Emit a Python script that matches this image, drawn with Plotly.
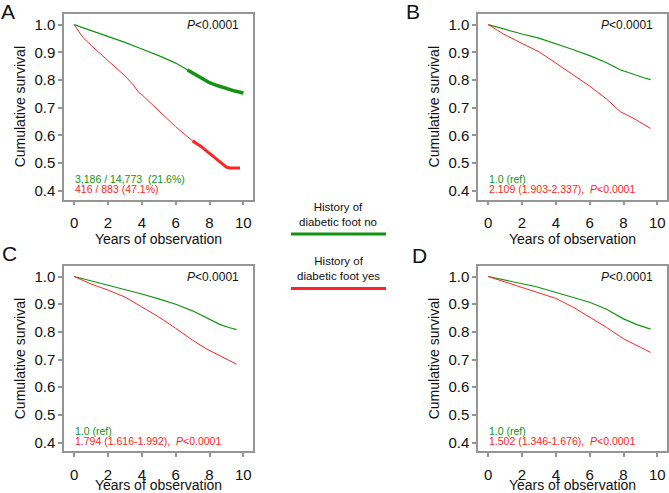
import plotly.graph_objects as go

# Kaplan-Meier style survival curves
# panel A (crude)
a_yrs_no = [0, 1, 2, 3, 4, 5, 6, 6.7, 7, 7.5, 8, 8.5, 9, 9.5, 10]
a_surv_no = [1.0, 0.979, 0.958, 0.936, 0.912, 0.888, 0.861, 0.836, 0.825, 0.808, 0.790, 0.779, 0.769, 0.760, 0.753]
a_yrs_yes = [0, 0.5, 1, 1.5, 2, 2.5, 3, 3.5, 3.8, 4, 4.5, 5, 5.5, 6, 6.5, 7, 7.5, 8, 8.5, 9, 9.2, 9.8]
a_surv_yes = [1.0, 0.955, 0.925, 0.897, 0.872, 0.843, 0.815, 0.782, 0.756, 0.747, 0.718, 0.689, 0.659,
              0.631, 0.605, 0.580, 0.560, 0.535, 0.510, 0.485, 0.482, 0.482]

# panel B
b_yrs = [0, 1, 2, 3, 4, 5, 6, 7, 7.8, 8.6, 9.2, 9.6]
b_surv_no = [1.0, 0.982, 0.966, 0.951, 0.931, 0.910, 0.888, 0.862, 0.837, 0.819, 0.808, 0.801]
b_surv_yes = [1.0, 0.963, 0.932, 0.902, 0.861, 0.819, 0.778, 0.731, 0.686, 0.661, 0.639, 0.625]

# panel C
c_yrs = [0, 1, 2, 3, 4, 5, 6, 7, 7.8, 8.6, 9.2, 9.6]
c_surv_no = [1.0, 0.984, 0.970, 0.954, 0.937, 0.919, 0.900, 0.876, 0.850, 0.827, 0.815, 0.808]
c_surv_yes = [1.0, 0.973, 0.951, 0.926, 0.890, 0.854, 0.813, 0.770, 0.739, 0.714, 0.697, 0.683]

# panel D
d_yrs = [0, 1, 2, 2.8, 4, 5, 6, 7, 8, 8.8, 9.6]
d_surv_no = [1.0, 0.986, 0.974, 0.964, 0.942, 0.925, 0.907, 0.882, 0.847, 0.826, 0.810]
d_surv_yes = [1.0, 0.980, 0.961, 0.946, 0.921, 0.890, 0.853, 0.816, 0.775, 0.750, 0.726]

stats_a = ["3,186 / 14,773  (21.6%)", "416 / 883 (47.1%)"]
stats_b = ["1.0 (ref)", "2.109 (1.903-2.337),  <i>P</i><0.0001"]
stats_c = ["1.0 (ref)", "1.794 (1.616-1.992),  <i>P</i><0.0001"]
stats_d = ["1.0 (ref)", "1.502 (1.346-1.676),  <i>P</i><0.0001"]
panel_letters = ["A", "B", "C", "D"]

GREEN = "#129412"
RED = "#ff2424"
FRAME = "#959595"
W, H = 669, 493

fig = go.Figure()

panels = [
    (a_yrs_no, a_surv_no, a_yrs_yes, a_surv_yes, stats_a),
    (b_yrs, b_surv_no, b_yrs, b_surv_yes, stats_b),
    (c_yrs, c_surv_no, c_yrs, c_surv_yes, stats_c),
    (d_yrs, d_surv_no, d_yrs, d_surv_yes, stats_d),
]

# plot boxes in pixels (left, right, top, bottom)
boxes = [(64, 253, 14, 202), (478, 667, 14, 202), (64, 253, 269, 457), (478, 667, 269, 457)]
letter_pos = [(8, 12), (413, 12), (9, 257), (419, 259)]

for i, (xn, yn, xy, yy, stats) in enumerate(panels):
    ax = "" if i == 0 else str(i + 1)
    xr, yr = "x" + ax, "y" + ax
    fig.add_trace(go.Scatter(x=xn, y=yn, mode="lines", line=dict(color=GREEN, width=1.2),
                             xaxis=xr, yaxis=yr, showlegend=False))
    fig.add_trace(go.Scatter(x=xy, y=yy, mode="lines", line=dict(color=RED, width=1),
                             xaxis=xr, yaxis=yr, showlegend=False))
    if i == 0:
        # dense censoring marks make the tails look thick
        fig.add_trace(go.Scatter(x=xn[7:], y=yn[7:], mode="lines", line=dict(color=GREEN, width=3.5),
                                 xaxis="x", yaxis="y", showlegend=False))
        fig.add_trace(go.Scatter(x=xy[15:], y=yy[15:], mode="lines", line=dict(color=RED, width=3),
                                 xaxis="x", yaxis="y", showlegend=False))

    l, r, t, b = boxes[i]
    fig.update_layout(**{
        "xaxis" + ax: dict(
            domain=[l / W, r / W], anchor=yr, range=[-0.6, 10.57],
            tickvals=[0, 2, 4, 6, 8, 10], ticks="outside", ticklen=4, tickwidth=1.5, tickcolor=FRAME,
            showline=True, linewidth=1.5, linecolor=FRAME, mirror=True,
            showgrid=False, zeroline=False,
            ticklabeloverflow="allow", ticklabelstandoff=5,
            tickfont=dict(size=15, color="#111"),
            title=dict(text="Years of observation", font=dict(size=14, color="#111"), standoff=0),
        ),
        "yaxis" + ax: dict(
            domain=[1 - b / H, 1 - t / H], anchor=xr, range=[0.368, 1.039],
            tickvals=[0.4, 0.5, 0.6, 0.7, 0.8, 0.9, 1.0], tickformat=".1f",
            ticks="outside", ticklen=4, tickwidth=1.5, tickcolor=FRAME,
            showline=True, linewidth=1.5, linecolor=FRAME, mirror=True,
            showgrid=False, zeroline=False,
            tickfont=dict(size=15, color="#111"),
            title=dict(text="Cumulative survival", font=dict(size=14, color="#111"), standoff=5),
        ),
    })
    fig.add_annotation(x=9.85, y=1.0, xref=xr, yref=yr, text="<i>P</i><0.0001", showarrow=False,
                       xanchor="right", yanchor="middle", font=dict(size=12, color="#111"))
    fig.add_annotation(x=-0.05, y=0.442, xref=xr, yref=yr, text=stats[0], showarrow=False,
                       xanchor="left", yanchor="middle", font=dict(size=10.5, color=GREEN))
    fig.add_annotation(x=-0.05, y=0.405, xref=xr, yref=yr, text=stats[1], showarrow=False,
                       xanchor="left", yanchor="middle", font=dict(size=10.5, color=RED))
    lx, ly = letter_pos[i]
    fig.add_annotation(x=lx / W, y=1 - ly / H, xref="paper", yref="paper", text=panel_letters[i],
                       showarrow=False, xanchor="center", yanchor="middle",
                       font=dict(size=21, color="#111"))

# central legend
fig.add_annotation(x=338 / W, y=1 - 217 / H, xref="paper", yref="paper",
                   text="History of<br>diabetic foot no", showarrow=False, xanchor="center",
                   font=dict(size=11.5, color="#111"), yanchor="middle")
fig.add_annotation(x=338 / W, y=1 - 272 / H, xref="paper", yref="paper",
                   text="History of<br>diabetic foot yes", showarrow=False, xanchor="center",
                   font=dict(size=11.5, color="#111"), yanchor="middle")
fig.add_shape(type="line", xref="paper", yref="paper", x0=291 / W, x1=386 / W,
              y0=1 - 237 / H, y1=1 - 237 / H, line=dict(color=GREEN, width=3))
fig.add_shape(type="line", xref="paper", yref="paper", x0=291 / W, x1=386 / W,
              y0=1 - 292 / H, y1=1 - 292 / H, line=dict(color=RED, width=3))

fig.update_layout(
    width=W, height=H,
    margin=dict(l=0, r=0, t=0, b=0),
    paper_bgcolor="white", plot_bgcolor="white",
    font=dict(family="Liberation Sans, Arial, sans-serif", color="#111"),
    showlegend=False,
)

# the page's default body margin would push the figure 8px off
fig.write_html("out.html", config={"displayModeBar": False},
               post_script="document.body.style.margin='0';")
